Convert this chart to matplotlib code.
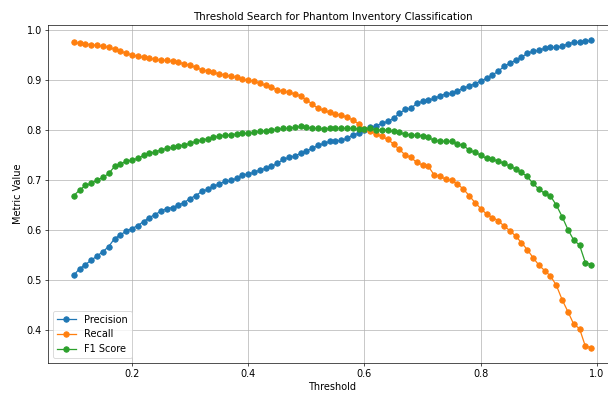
import numpy as np
import matplotlib
matplotlib.use("Agg")
import matplotlib.pyplot as plt

thresholds = [round(0.10 + 0.01 * i, 2) for i in range(90)]

precision = [
    0.510, 0.523, 0.531, 0.540, 0.548, 0.557, 0.567, 0.583, 0.590, 0.598,
    0.603, 0.609, 0.617, 0.625, 0.631, 0.638, 0.643, 0.645, 0.650, 0.655,
    0.663, 0.669, 0.677, 0.681, 0.687, 0.692, 0.697, 0.699, 0.703, 0.710,
    0.712, 0.715, 0.720, 0.723, 0.727, 0.733, 0.741, 0.745, 0.748, 0.753,
    0.758, 0.763, 0.769, 0.773, 0.777, 0.778, 0.779, 0.783, 0.790, 0.793,
    0.800, 0.805, 0.808, 0.813, 0.817, 0.823, 0.833, 0.841, 0.843, 0.853,
    0.857, 0.859, 0.863, 0.868, 0.872, 0.873, 0.878, 0.883, 0.888, 0.892,
    0.898, 0.903, 0.910, 0.917, 0.927, 0.933, 0.939, 0.945, 0.953, 0.957,
    0.959, 0.963, 0.965, 0.965, 0.967, 0.972, 0.975, 0.975, 0.977, 0.979,
]

recall = [
    0.975, 0.973, 0.972, 0.970, 0.969, 0.967, 0.965, 0.961, 0.958, 0.953,
    0.950, 0.947, 0.945, 0.943, 0.941, 0.939, 0.939, 0.937, 0.935, 0.932,
    0.929, 0.925, 0.920, 0.918, 0.915, 0.912, 0.910, 0.907, 0.905, 0.901,
    0.899, 0.898, 0.893, 0.889, 0.885, 0.880, 0.877, 0.875, 0.872, 0.868,
    0.860, 0.852, 0.843, 0.839, 0.835, 0.831, 0.830, 0.825, 0.820, 0.812,
    0.801, 0.797, 0.792, 0.787, 0.781, 0.772, 0.761, 0.750, 0.745, 0.735,
    0.730, 0.727, 0.710, 0.708, 0.701, 0.699, 0.692, 0.682, 0.669, 0.655,
    0.643, 0.632, 0.625, 0.619, 0.608, 0.599, 0.588, 0.575, 0.561, 0.545,
    0.530, 0.519, 0.508, 0.490, 0.461, 0.437, 0.412, 0.403, 0.368, 0.365,
]

f1_score = [
    0.669, 0.680, 0.689, 0.693, 0.700, 0.705, 0.713, 0.727, 0.732, 0.737,
    0.740, 0.743, 0.749, 0.753, 0.756, 0.760, 0.763, 0.765, 0.768, 0.770,
    0.773, 0.777, 0.780, 0.782, 0.785, 0.788, 0.789, 0.790, 0.792, 0.793,
    0.793, 0.795, 0.797, 0.798, 0.799, 0.801, 0.803, 0.803, 0.805, 0.807,
    0.805, 0.803, 0.803, 0.802, 0.803, 0.803, 0.803, 0.803, 0.803, 0.802,
    0.802, 0.803, 0.800, 0.800, 0.799, 0.797, 0.795, 0.791, 0.790, 0.789,
    0.788, 0.785, 0.779, 0.778, 0.777, 0.777, 0.772, 0.769, 0.760, 0.755,
    0.750, 0.743, 0.741, 0.738, 0.733, 0.728, 0.722, 0.715, 0.707, 0.693,
    0.682, 0.673, 0.668, 0.650, 0.627, 0.601, 0.580, 0.570, 0.535, 0.531,
]

DPI = 60.8
fig = plt.figure(figsize=(608 / DPI, 396 / DPI), dpi=DPI)
ax = fig.add_axes([48 / 608, 33 / 396, 569 / 608, 338 / 396])

ax.plot(thresholds, precision, marker="o", markersize=6.5, label="Precision")
ax.plot(thresholds, recall, marker="o", markersize=6.5, label="Recall")
ax.plot(thresholds, f1_score, marker="o", markersize=6.5, label="F1 Score")

ax.set_title("Threshold Search for Phantom Inventory Classification", fontsize=12.2)
ax.set_xlabel("Threshold", fontsize=11.5)
ax.set_ylabel("Metric Value", fontsize=11.5)
ax.tick_params(labelsize=11.5)
ax.grid(True)
ax.legend(loc="lower left", fontsize=11.5)

fig.savefig("out.png", dpi=DPI)
